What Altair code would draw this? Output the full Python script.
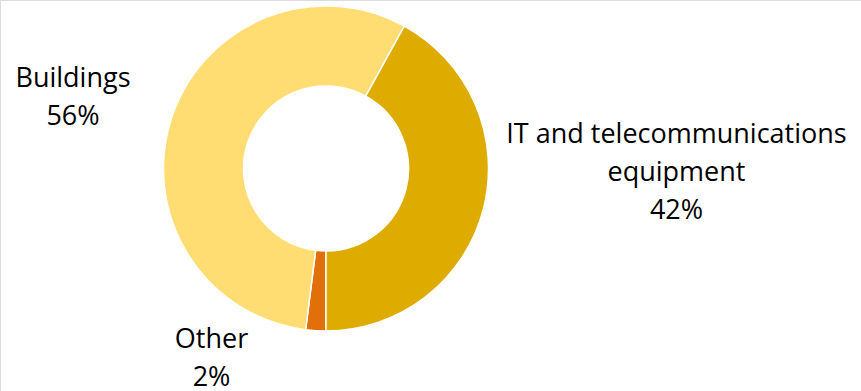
import math
import altair as alt
import pandas as pd

categories = ["Other", "Buildings", "IT and telecommunications\nequipment"]
shares = [2, 56, 42]
colors = ["#E2700A", "#FFDD73", "#DEAB00"]

df = pd.DataFrame({"category": categories, "share": shares, "order": [0, 1, 2]})

CX, CY = 326, 168.5
R_OUT, R_IN = 162.5, 82.5

base = alt.Chart(df)

arcs = base.mark_arc(
    radius=R_OUT, radius2=R_IN, stroke="white", strokeWidth=1.5
).encode(
    theta=alt.Theta("share:Q", stack=True,
                    scale=alt.Scale(range=[math.pi, 3 * math.pi])),
    order=alt.Order("order:Q", sort="ascending"),
    color=alt.Color("category:N", scale=alt.Scale(domain=categories, range=colors),
                    legend=None),
    x=alt.value(CX),
    y=alt.value(CY),
)

label_pos = {
    "Buildings": (73, 87),
    "IT and telecommunications\nequipment": (676.5, 142.5),
    "Other": (211.5, 348),
}

layers = [arcs]
for cat in categories:
    px, py = label_pos[cat]
    t = base.transform_filter(
        alt.datum.category == cat
    ).transform_calculate(
        label="datum.category + '\\n' + datum.share + '%'"
    ).mark_text(
        font="Open Sans", fontSize=27, color="#000000", align="center",
        baseline="alphabetic", lineBreak="\n", lineHeight=38
    ).encode(
        text="label:N", x=alt.value(px), y=alt.value(py)
    )
    layers.append(t)

chart = alt.layer(*layers).properties(
    width=861, height=391, padding=0,
    autosize=alt.AutoSizeParams(type="none"),
).configure_view(stroke=None).configure(background="white")

chart.save("out.html", embed_options={"renderer": "svg", "actions": False})
